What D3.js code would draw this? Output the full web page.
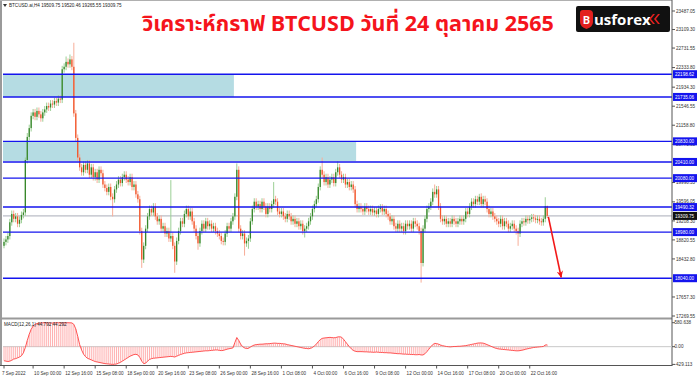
<!DOCTYPE html>
<html>
<head>
<meta charset="utf-8">
<script src="https://cdn.jsdelivr.net/npm/d3@7"></script>
<style>
  body { margin: 0; background: #fff; }
  svg { display: block; }
</style>
</head>
<body>
<div id="chart"></div>
<script>
const width = 699;
const height = 380;

// =====================
// データ（H4 足, 7 Sep 2022 〜 24 Oct 2022）
// =====================
const firstOpen = 18700;
const closes = [
  18780, 18830, 18900, 19180, 19350, 19250, 19300, 19150, 19230, 19330,
  19380, 20450, 20920, 21100, 21350, 21420, 21330, 21450, 21380, 21300,
  21420, 21480, 21550, 21520, 21600, 21580, 21650, 21620, 21700, 21680,
  22300, 22350, 22450, 22400, 22500, 22350, 21400, 20900, 20500, 20300,
  20200, 20350, 20250, 20380, 20150, 20300, 20100, 20200, 20050, 20250,
  20180, 19950, 19880, 19800, 19900, 19700, 19650, 19850, 19950, 20050,
  19980, 20100, 20150, 20050, 20000, 20100, 19900, 19950, 19750, 19650,
  19000, 18420, 18700, 19050, 19300, 19450, 19380, 19500, 19300, 19200,
  19250, 19050, 19100, 18950, 19000, 18850, 18900, 18700, 18380, 18800,
  19000, 19200, 19150, 19350, 19450, 19300, 19400, 19200, 19050, 18900,
  18750, 19000, 19150, 19050, 19200, 19100, 19150, 19050, 19100, 19000,
  18950, 18900, 18800, 18780, 18950, 19100, 19050, 19200, 19300, 19700,
  20250, 19050, 18900, 18950, 18750, 18800, 18850, 19200, 19450, 19600,
  19500, 19550, 19450, 19600, 19500, 19350, 19500, 19450, 19550, 19650,
  19600, 19400, 19350, 19400, 19300, 19250, 19350, 19300, 19200, 19250,
  19150, 19200, 19100, 19150, 19000, 19050, 19100, 19200, 19300, 19450,
  19550, 19650, 19900, 20250, 20150, 20000, 20100, 19950, 20050, 20100,
  19980, 20200, 20300, 20150, 20050, 20100, 19950, 20000, 19900, 19950,
  19850, 19550, 19450, 19500, 19450, 19400, 19500, 19450, 19400, 19450,
  19380, 19420, 19350, 19450, 19480, 19400, 19450, 19350, 19300, 19200,
  19250, 19100, 19050, 19150, 19050, 19100, 19000, 19150, 19100, 19150,
  19050, 19200, 19150, 19100, 19000, 18350, 19050, 19250, 19450, 19500,
  19600, 19800, 19750, 19850, 19500, 19250, 19200, 19250, 19150, 19200,
  19150, 19250, 19200, 19150, 19200, 19250, 19200, 19250, 19400, 19350,
  19500, 19600, 19550, 19650, 19600, 19700, 19550, 19650, 19600, 19450,
  19350, 19400, 19300, 19250, 19200, 19150, 19250, 19100, 19200, 19150,
  19050, 19100, 19150, 19050, 19000, 18950, 19150, 19200, 19180, 19250,
  19220, 19250, 19280, 19260, 19230, 19250, 19200, 19180, 19250, 19509.75,
  19309.75
];
// 目立つヒゲだけ個別に指定（それ以外は標準のヒゲ長）
const spikeHighs = {
  11: 20500, 12: 21000, 32: 22560, 34: 22600, 36: 22840, 86: 20040,
  120: 20380, 139: 20000, 164: 20500, 172: 20420, 222: 19950, 245: 19760,
  279: 19690, 280: 19520.46
};
const spikeLows = {
  0: 18650, 56: 19300, 71: 18250, 88: 18150, 100: 18620, 124: 18500,
  126: 18640, 155: 18870, 215: 17950, 265: 18700, 280: 19265.55
};
const wickSize = 70;

const macd = [
  -340, -350, -360, -350, -330, -300, -290, -270, -250, -220,
  -150, -20, 150, 300, 420, 500, 540, 560, 570, 575,
  578, 580, 578, 575, 572, 575, 578, 580, 580, 578,
  575, 578, 580, 580, 578, 575, 540, 430, 250, 50,
  -80, -180, -240, -280, -300, -320, -340, -360, -370, -380,
  -390, -400, -410, -415, -420, -425, -429, -425, -420, -400,
  -380, -350, -320, -290, -260, -230, -210, -190, -185, -200,
  -260, -350, -410, -400, -350, -310, -290, -280, -275, -270,
  -265, -260, -255, -250, -245, -240, -235, -240, -250, -230,
  -210, -190, -175, -160, -150, -145, -140, -135, -130, -125,
  -120, -115, -110, -105, -100, -100, -95, -90, -85, -80,
  -80, -90, -95, -90, -75, -60, -50, -40, -30, 100,
  220, 150, 60, 0, -30, -45, -40, -10, 20, 40,
  50, 55, 60, 60, 65, 70, 70, 75, 80, 85,
  85, 80, 80, 75, 70, 65, 50, 40, 30, 20,
  10, 0, -10, -20, -30, -40, -45, -50, -40, -20,
  20, 60, 120, 170, 200, 210, 215, 220, 225, 220,
  215, 220, 235, 240, 230, 180, 120, 60, 0, -50,
  -90, -110, -120, -120, -120, -122, -125, -125, -130, -130,
  -135, -135, -130, -135, -140, -140, -145, -145, -150, -150,
  -155, -160, -165, -170, -170, -175, -180, -180, -185, -185,
  -190, -190, -195, -195, -190, -200, -200, -170, -120, -60,
  0, 50, 80, 75, 60, 40, 25, 15, 5, 0,
  -5, 0, 5, 5, 10, 10, 15, 20, 25, 35,
  45, 55, 65, 75, 85, 90, 90, 85, 70, 50,
  30, 10, -10, -30, -45, -55, -60, -65, -70, -75,
  -80, -85, -90, -95, -100, -100, -95, -85, -75, -60,
  -50, -40, -30, -20, -15, -10, -5, 0, 5, 40,
  44.79
];

// 水平線（青）
const levels = ["22198.62", "21735.06", "20830.00", "20410.00", "20080.00", "19490.32", "18980.00", "18040.00"];
const lastPrice = "19309.75";
// ゾーン（四角形）: [終了バー, 上値, 下値]
const zones = [
  [118.5, 22198.62, 21735.06],
  [181.5, 20830.00, 20430.00]
];
// 矢印: 始点/終点 [バー, 価格]
const arrowFrom = [280.6, 19290];
const arrowTo = [287.2, 18060];

const priceTicks = ["23487.05", "23109.30", "22731.55", "22333.80", "21934.30", "21546.55",
  "21158.80", "20771.05", "19990.55", "19596.05", "19208.30", "18820.55",
  "18432.80", "17657.30", "17269.55"];
const macdTicks = ["580.638", "0.00", "-429.113"];
const timeLabels = ["7 Sep 2022", "10 Sep 00:00", "12 Sep 16:00", "15 Sep 08:00", "18 Sep 00:00",
  "20 Sep 16:00", "23 Sep 08:00", "26 Sep 00:00", "28 Sep 16:00", "1 Oct 08:00", "4 Oct 00:00",
  "6 Oct 16:00", "9 Oct 08:00", "12 Oct 00:00", "14 Oct 16:00", "17 Oct 08:00", "20 Oct 00:00",
  "22 Oct 16:00"];
const timeLabelBars = [0, 15, 31, 47, 63, 79, 95, 111, 127, 143, 159, 175, 191, 207, 223, 239, 255, 271];

const titleText = "วิเคราะห์กราฟ BTCUSD วันที่ 24 ตุลาคม 2565";
const headerText = "BTCUSD.ai,H4  19509.75 19520.46 19265.55 19309.75";
const macdText = "MACD(12,26,1) 44.792 44.292";

// =====================
// レイアウト
// =====================
const plotL = 3, plotR = 672;
const mainTop = 1, sepY = 318.5, macdBottom = 365.5;
const fontAxis = "'Liberation Sans', Arial, sans-serif";

const x = d3.scaleLinear().domain([0, closes.length - 1]).range([4, 4 + (closes.length - 1) * 1.94]);
const y = d3.scaleLinear().domain([17269.55, 23487.05]).range([316, 11]);
const ym = d3.scaleLinear().domain([-429.113, 580.638]).range([364.4, 322.7]);

const svg = d3.select("#chart")
  .append("svg")
  .attr("width", width)
  .attr("height", height)
  .attr("viewBox", `0 0 ${width} ${height}`)
  .style("background", "#fff");

const defs = svg.append("defs");
defs.append("clipPath").attr("id", "clipMain")
  .append("rect").attr("x", plotL).attr("y", mainTop).attr("width", plotR - plotL).attr("height", sepY - mainTop - 1);
defs.append("marker")
  .attr("id", "arrowHead")
  .attr("viewBox", "0 0 10 10")
  .attr("refX", 8).attr("refY", 5)
  .attr("markerWidth", 5).attr("markerHeight", 5)
  .attr("orient", "auto")
  .append("path").attr("d", "M0,1 L9,5 L0,9 L3,5 Z").attr("fill", "#f21818");

// 枠
svg.append("rect").attr("x", 0).attr("y", 0).attr("width", 2).attr("height", macdBottom).attr("fill", "#9a9a9a");
svg.append("line").attr("x1", 0).attr("x2", plotR).attr("y1", 0.5).attr("y2", 0.5).attr("stroke", "#b0b0b0");

const main = svg.append("g").attr("clip-path", "url(#clipMain)");

// ゾーン
main.selectAll(".zone")
  .data(zones)
  .enter()
  .append("rect")
  .attr("class", "zone")
  .attr("x", plotL)
  .attr("y", d => y(d[1]))
  .attr("width", d => x(d[0]) - plotL)
  .attr("height", d => y(d[2]) - y(d[1]))
  .attr("fill", "#b5dce3");

// 現在値ライン
main.append("line")
  .attr("x1", plotL).attr("x2", plotR)
  .attr("y1", y(+lastPrice)).attr("y2", y(+lastPrice))
  .attr("stroke", "#a9adb8").attr("stroke-width", 1);

// ローソク足
const candles = closes.map((c, i) => {
  const o = i === 0 ? firstOpen : closes[i - 1];
  const h = spikeHighs[i] !== undefined ? spikeHighs[i] : Math.max(o, c) + wickSize;
  const l = spikeLows[i] !== undefined ? spikeLows[i] : Math.min(o, c) - wickSize;
  return { i, o, h, l, c, up: c >= o };
});

main.selectAll(".wick")
  .data(candles)
  .enter()
  .append("line")
  .attr("class", "wick")
  .attr("x1", d => x(d.i)).attr("x2", d => x(d.i))
  .attr("y1", d => y(d.h)).attr("y2", d => y(d.l))
  .attr("stroke", d => d.up ? "#9ccf95" : "#f7ad98")
  .attr("stroke-width", 1);

main.selectAll(".body")
  .data(candles)
  .enter()
  .append("rect")
  .attr("class", "body")
  .attr("x", d => x(d.i) - 0.65)
  .attr("width", 1.3)
  .attr("y", d => y(Math.max(d.o, d.c)))
  .attr("height", d => Math.max(1, Math.abs(y(d.o) - y(d.c))))
  .attr("fill", d => d.up ? "#37872b" : "#f2562b");

// 青い水平線
main.selectAll(".level")
  .data(levels)
  .enter()
  .append("line")
  .attr("class", "level")
  .attr("x1", plotL).attr("x2", plotR)
  .attr("y1", d => y(+d)).attr("y2", d => y(+d))
  .attr("stroke", "#1414ee")
  .attr("stroke-width", 1.4);

// 矢印
main.append("line")
  .attr("x1", x(arrowFrom[0])).attr("y1", y(arrowFrom[1]))
  .attr("x2", x(arrowTo[0])).attr("y2", y(arrowTo[1]))
  .attr("stroke", "#f21818")
  .attr("stroke-width", 1.6)
  .attr("marker-end", "url(#arrowHead)");

// パネル区切り
svg.append("rect").attr("x", 0).attr("y", sepY - 1).attr("width", plotR).attr("height", 2).attr("fill", "#9a9a9a");
svg.append("line").attr("x1", 0).attr("x2", plotR + 0.5).attr("y1", macdBottom).attr("y2", macdBottom).attr("stroke", "#555");
svg.append("line").attr("x1", plotR).attr("x2", plotR).attr("y1", 0).attr("y2", macdBottom).attr("stroke", "#555");

// =====================
// MACD
// =====================
svg.append("line")
  .attr("x1", plotL).attr("x2", plotR)
  .attr("y1", ym(0)).attr("y2", ym(0))
  .attr("stroke", "#c8c8c8");

svg.selectAll(".hist")
  .data(macd)
  .enter()
  .append("line")
  .attr("class", "hist")
  .attr("x1", (d, i) => x(i)).attr("x2", (d, i) => x(i))
  .attr("y1", ym(0)).attr("y2", d => ym(d))
  .attr("stroke", "#ff9d9d")
  .attr("stroke-width", 0.8);

svg.append("path")
  .datum(macd)
  .attr("d", d3.line().x((d, i) => x(i)).y(d => ym(d)))
  .attr("fill", "none")
  .attr("stroke", "#ff5252")
  .attr("stroke-width", 1);

svg.append("text")
  .attr("x", 4).attr("y", 325.5)
  .attr("font-family", fontAxis).attr("font-size", 4.6).attr("fill", "#222")
  .text(macdText);

// =====================
// 価格軸
// =====================
const axisG = svg.append("g");
priceTicks.forEach(t => {
  const ty = y(+t);
  axisG.append("line").attr("x1", plotR).attr("x2", plotR + 3).attr("y1", ty).attr("y2", ty).attr("stroke", "#555");
  axisG.append("text")
    .attr("x", plotR + 4).attr("y", ty).attr("dy", "0.35em")
    .attr("font-family", fontAxis).attr("font-size", 4.6).attr("fill", "#333")
    .text(t);
});
macdTicks.forEach(t => {
  const ty = ym(+t);
  axisG.append("line").attr("x1", plotR).attr("x2", plotR + 3).attr("y1", ty).attr("y2", ty).attr("stroke", "#555");
  axisG.append("text")
    .attr("x", plotR + 2.5).attr("y", ty).attr("dy", "0.35em")
    .attr("font-family", fontAxis).attr("font-size", 4.6).attr("fill", "#333")
    .text(t);
});

// 水平線ラベル
function priceTag(value, fill) {
  const ty = y(+value);
  axisG.append("rect")
    .attr("x", plotR + 1).attr("y", ty - 4).attr("width", 24).attr("height", 8)
    .attr("fill", fill);
  axisG.append("text")
    .attr("x", plotR + 3).attr("y", ty).attr("dy", "0.35em")
    .attr("font-family", fontAxis).attr("font-size", 4.6).attr("fill", "#fff")
    .text(value);
}
levels.forEach(v => priceTag(v, "#1414ee"));
priceTag(lastPrice, "#111");

// =====================
// 時間軸
// =====================
timeLabels.forEach((t, k) => {
  const tx = x(timeLabelBars[k]);
  svg.append("line").attr("x1", tx).attr("x2", tx).attr("y1", macdBottom).attr("y2", macdBottom + 3).attr("stroke", "#555");
  svg.append("text")
    .attr("x", k === 0 ? 2 : tx + 1).attr("y", 375)
    .attr("font-family", fontAxis).attr("font-size", 4.6).attr("fill", "#333")
    .text(t);
});

// ヘッダー
svg.append("path").attr("d", "M3,4 L7,4 L5,7 Z").attr("fill", "#333");
svg.append("text")
  .attr("x", 9).attr("y", 7)
  .attr("font-family", fontAxis).attr("font-size", 4.6).attr("fill", "#222")
  .text(headerText);

// タイトル
svg.append("text")
  .attr("x", 348).attr("y", 31)
  .attr("text-anchor", "middle")
  .attr("font-family", "'Noto Sans Thai', 'Noto Sans', sans-serif")
  .attr("font-weight", "bold")
  .attr("font-size", 21.5)
  .attr("fill", "#f5141c")
  .text(titleText);

// ロゴ
const logo = svg.append("g").attr("transform", "translate(576,6)");
logo.append("rect").attr("width", 94).attr("height", 26).attr("rx", 2).attr("fill", "#111");
logo.append("path")
  .attr("d", "M4,7 Q4,4 7,4 L13,4 Q17,4 17,8 L17,16 Q17,21 10.5,23 Q4,21 4,16 Z")
  .attr("fill", "#e3201e");
logo.append("text")
  .attr("x", 10.5).attr("y", 17.5).attr("text-anchor", "middle")
  .attr("font-family", "Roboto, sans-serif").attr("font-weight", "bold").attr("font-size", 11)
  .attr("fill", "#fff").text("B");
logo.append("text")
  .attr("x", 18).attr("y", 19)
  .attr("font-family", "'Open Sans', sans-serif").attr("font-weight", "bold").attr("font-size", 15)
  .attr("fill", "#fff").text("usforex");
logo.append("path").attr("d", "M77,8 L73,13 L77,18 L79,18 L75,13 L79,8 Z").attr("fill", "#e3201e");
logo.append("path").attr("d", "M82,8 L78,13 L82,18 L84,18 L80,13 L84,8 Z").attr("fill", "#e3201e");
</script>
</body>
</html>
